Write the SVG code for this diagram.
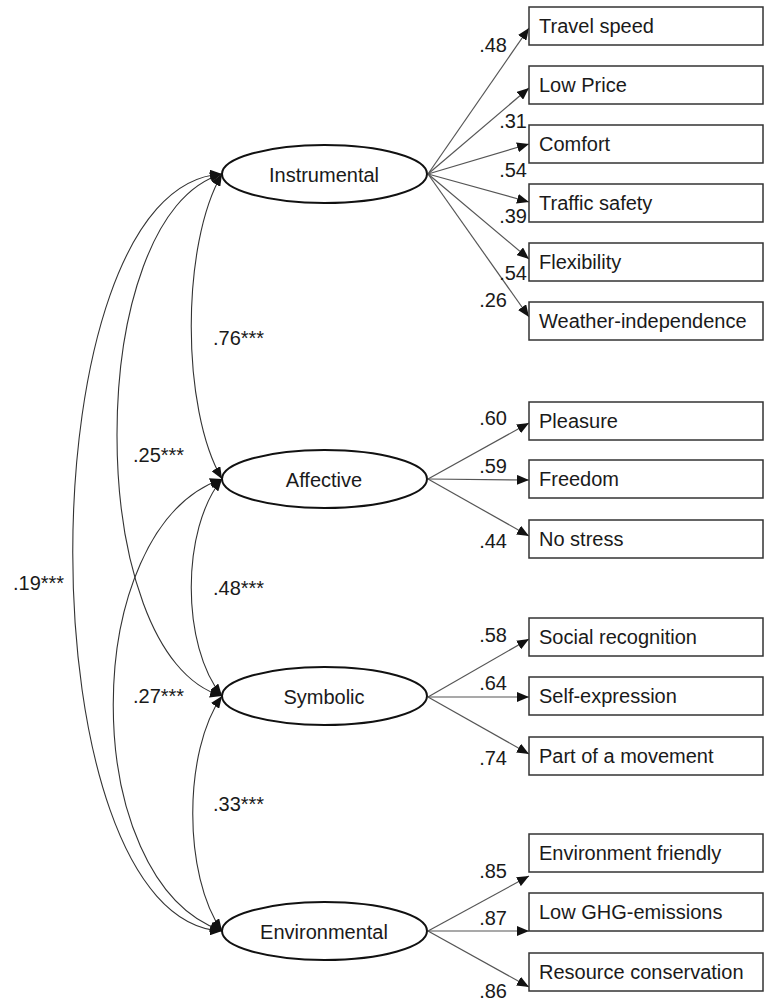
<svg xmlns="http://www.w3.org/2000/svg" width="770" height="1008" viewBox="0 0 770 1008">
<style>
text{font-family:"Liberation Sans",Arial,sans-serif;font-size:20px;fill:#1a1a1a}
.box{fill:#fff;stroke:#333;stroke-width:1.5}
.lat{fill:#fff;stroke:#111;stroke-width:2}
.fan{fill:none;stroke:#555;stroke-width:1.2;marker-end:url(#ah)}
.cov{fill:none;stroke:#333;stroke-width:1.1;marker-start:url(#ah2);marker-end:url(#ah2)}
.c{text-anchor:middle}
.r{text-anchor:end}
</style>
<defs>
<marker id="ah" viewBox="0 0 12 10" refX="12" refY="5" markerWidth="12" markerHeight="10" orient="auto" markerUnits="userSpaceOnUse"><path d="M0,0 L12,5 L0,10 z" fill="#111"/></marker>
<marker id="ah2" viewBox="0 0 12 10" refX="12" refY="5" markerWidth="12" markerHeight="10" orient="auto-start-reverse" markerUnits="userSpaceOnUse"><path d="M0,0 L12,5 L0,10 z" fill="#111"/></marker>
</defs>
<rect width="770" height="1008" fill="#fff"/>
<g id="connectors">
<path class="fan" d="M428,174 L529,28"/>
<path class="fan" d="M428,174 L529,88"/>
<path class="fan" d="M428,174 L529,144"/>
<path class="fan" d="M428,174 L529,202"/>
<path class="fan" d="M428,174 L529,259"/>
<path class="fan" d="M428,174 L529,317"/>
<path class="fan" d="M428,479 L529,423"/>
<path class="fan" d="M428,479 L529,480"/>
<path class="fan" d="M428,479 L529,536"/>
<path class="fan" d="M428,697 L529,639"/>
<path class="fan" d="M428,697 L529,697"/>
<path class="fan" d="M428,697 L529,754"/>
<path class="fan" d="M428,931 L529,876"/>
<path class="fan" d="M428,931 L529,931"/>
<path class="fan" d="M428,931 L529,987"/>
<path class="cov" d="M222,174 C181,244 181,409 222,479"/>
<path class="cov" d="M222,174 C82,214 82,656 222,696"/>
<path class="cov" d="M222,174 C23,184 23,921 222,931"/>
<path class="cov" d="M222,479 C181,529 181,646 222,696"/>
<path class="cov" d="M222,479 C77,529 77,881 222,931"/>
<path class="cov" d="M222,696 C183,751 183,876 222,931"/>
<text class="r" x="507" y="52">.48</text>
<text class="r" x="527" y="128">.31</text>
<text class="r" x="527" y="177">.54</text>
<text class="r" x="527" y="223">.39</text>
<text class="r" x="527" y="280">.54</text>
<text class="r" x="507" y="307">.26</text>
<text class="r" x="507" y="425">.60</text>
<text class="r" x="507" y="473">.59</text>
<text class="r" x="507" y="548">.44</text>
<text class="r" x="507" y="642">.58</text>
<text class="r" x="507" y="690">.64</text>
<text class="r" x="507" y="765">.74</text>
<text class="r" x="507" y="878">.85</text>
<text class="r" x="507" y="925">.87</text>
<text class="r" x="507" y="998">.86</text>
<text x="213" y="345">.76***</text>
<text x="133" y="462">.25***</text>
<text x="13" y="590">.19***</text>
<text x="213" y="595">.48***</text>
<text x="133" y="703">.27***</text>
<text x="213" y="811">.33***</text>
</g>
<g id="instrumental"><ellipse class="lat" cx="324.5" cy="174" rx="102.5" ry="29"/><text class="c" x="324" y="182">Instrumental</text></g>
<g id="affective"><ellipse class="lat" cx="324.5" cy="479" rx="102.5" ry="29"/><text class="c" x="324" y="487">Affective</text></g>
<g id="symbolic"><ellipse class="lat" cx="324.5" cy="696" rx="102.5" ry="29"/><text class="c" x="324" y="704">Symbolic</text></g>
<g id="environmental"><ellipse class="lat" cx="324.5" cy="931" rx="102.5" ry="29"/><text class="c" x="324" y="939">Environmental</text></g>
<g id="travel-speed"><rect class="box" x="529" y="7" width="234" height="38"/><text x="539" y="33">Travel speed</text></g>
<g id="low-price"><rect class="box" x="529" y="66" width="234" height="38"/><text x="539" y="92">Low Price</text></g>
<g id="comfort"><rect class="box" x="529" y="125" width="234" height="38"/><text x="539" y="151">Comfort</text></g>
<g id="traffic-safety"><rect class="box" x="529" y="184" width="234" height="38"/><text x="539" y="210">Traffic safety</text></g>
<g id="flexibility"><rect class="box" x="529" y="243" width="234" height="38"/><text x="539" y="269">Flexibility</text></g>
<g id="weather-independence"><rect class="box" x="529" y="302" width="234" height="38"/><text x="539" y="328">Weather-independence</text></g>
<g id="pleasure"><rect class="box" x="529" y="402" width="234" height="38"/><text x="539" y="428">Pleasure</text></g>
<g id="freedom"><rect class="box" x="529" y="460" width="234" height="38"/><text x="539" y="486">Freedom</text></g>
<g id="no-stress"><rect class="box" x="529" y="520" width="234" height="38"/><text x="539" y="546">No stress</text></g>
<g id="social-recognition"><rect class="box" x="529" y="618" width="234" height="38"/><text x="539" y="644">Social recognition</text></g>
<g id="self-expression"><rect class="box" x="529" y="677" width="234" height="38"/><text x="539" y="703">Self-expression</text></g>
<g id="part-of-a-movement"><rect class="box" x="529" y="737" width="234" height="38"/><text x="539" y="763">Part of a movement</text></g>
<g id="environment-friendly"><rect class="box" x="529" y="834" width="234" height="38"/><text x="539" y="860">Environment friendly</text></g>
<g id="low-ghg-emissions"><rect class="box" x="529" y="893" width="234" height="38"/><text x="539" y="919">Low GHG-emissions</text></g>
<g id="resource-conservation"><rect class="box" x="529" y="953" width="234" height="38"/><text x="539" y="979">Resource conservation</text></g>
</svg>
